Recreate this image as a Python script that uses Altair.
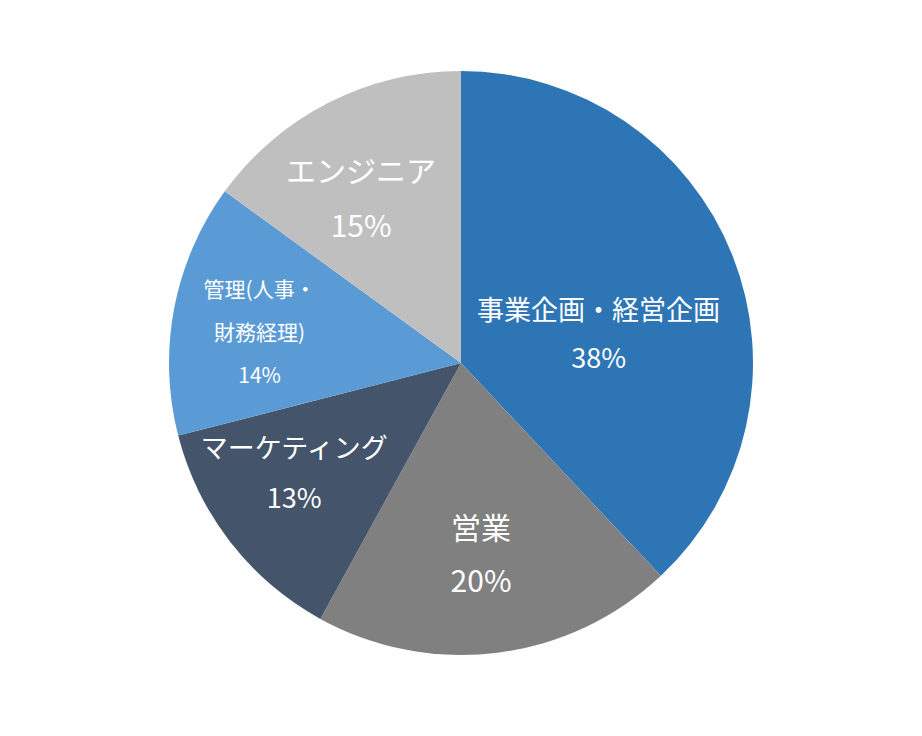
import altair as alt
import pandas as pd

categories = ["事業企画・経営企画", "営業", "マーケティング", "管理(人事・財務経理)", "エンジニア"]
shares = [38, 20, 13, 14, 15]
label_names = ["事業企画・経営企画", "営業", "マーケティング", "管理(人事・\n財務経理)", "エンジニア"]
colors = ["#2E75B6", "#808080", "#44546A", "#5B9BD5", "#BFBFBF"]

df = pd.DataFrame({
    "category": categories,
    "share": shares,
    "name": label_names,
    "idx": list(range(len(categories))),
})
df["label"] = df["name"] + "\n" + df["share"].astype(str) + "%"

FONT = "Noto Sans CJK JP"

base = alt.Chart(df).encode(
    theta=alt.Theta("share:Q", stack=True),
    order=alt.Order("idx:Q"),
)

arcs = base.mark_arc(outerRadius=292).encode(
    color=alt.Color("category:N", scale=alt.Scale(domain=categories, range=colors), legend=None)
)

# per-label styling: (slice index, radius, dy, fontSize, lineHeight)
label_styles = [
    (0, 148, 3, 27, 48),
    (1, 160, 8, 30, 53),
    (2, 211, -42, 27, 50),
    (3, 205, -34, 21, 43),
    (4, 220, 6, 30, 55),
]

layers = [arcs]
for i, r, dy, fs, lh in label_styles:
    layers.append(
        base.mark_text(
            radius=r, dy=dy, fontSize=fs, lineHeight=lh, font=FONT, color="white",
            lineBreak="\n", align="center", baseline="middle"
        ).encode(
            text=alt.condition(f"datum.idx == {i}", alt.Text("label:N"), alt.value(""))
        )
    )

chart = alt.layer(*layers).properties(
    width=906, height=710, padding=0, autosize="none", background="white"
).configure_view(stroke=None)

chart.save("out.html", embed_options={"renderer": "svg", "actions": False})
